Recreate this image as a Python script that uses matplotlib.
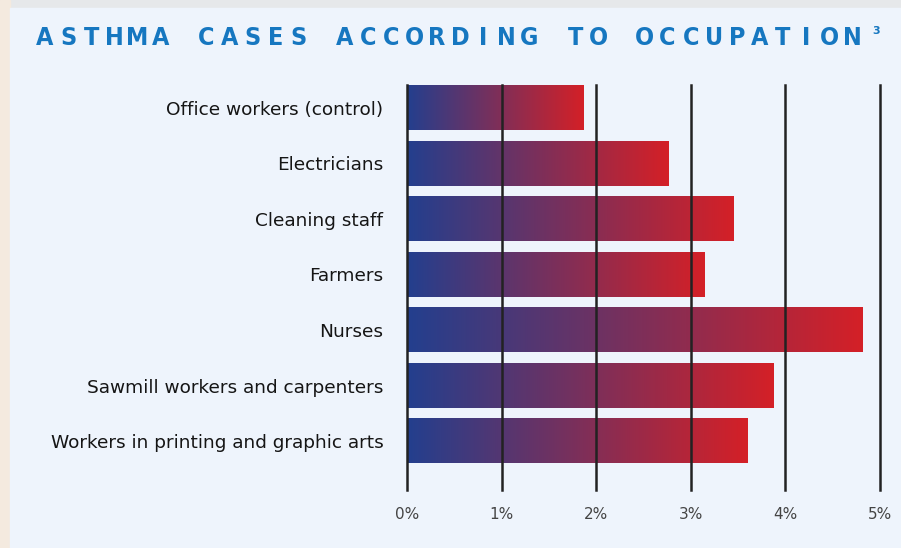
import matplotlib.pyplot as plt
import numpy as np
from matplotlib.colors import LinearSegmentedColormap
from matplotlib.patches import Rectangle

# data
occupations = [
    "Office workers (control)",
    "Electricians",
    "Cleaning staff",
    "Farmers",
    "Nurses",
    "Sawmill workers and carpenters",
    "Workers in printing and graphic arts",
]
asthma_pct = [1.87, 2.76, 3.45, 3.14, 4.81, 3.87, 3.60]
ticks = [0, 1, 2, 3, 4, 5]
tick_labels = ["0%", "1%", "2%", "3%", "4%", "5%"]
title = "ASTHMA CASES ACCORDING TO OCCUPATION"

W, H = 901, 548
fig = plt.figure(figsize=(W / 100, H / 100), dpi=100, facecolor="#e6e8ea")

# background panel and beige left edge
fig.patches.append(Rectangle((0, 0), 10 / W, 1, transform=fig.transFigure,
                             color="#f4eadf", zorder=-2))
fig.patches.append(Rectangle((10 / W, 0), 1, 1 - 8 / H, transform=fig.transFigure,
                             color="#eef4fc", zorder=-2))

ax = fig.add_axes([407 / W, 58 / H, 473 / W, 405 / H], zorder=2)
ax.set_facecolor("none")

cmap = LinearSegmentedColormap.from_list("bluered", ["#233f8e", "#d42027"])
grad = np.linspace(0, 1, 256).reshape(1, -1)
bar_h = 0.8
for i, v in enumerate(asthma_pct):
    ax.imshow(grad, cmap=cmap, aspect="auto", interpolation="bilinear",
              extent=[0, v, i + bar_h / 2, i - bar_h / 2], zorder=2)
ax.set_xlim(0, 5)
ax.set_ylim(6.88, -0.41)

for t in ticks:
    ax.axvline(t, color="#222222", lw=1.8, zorder=3, clip_on=False)

for s in ax.spines.values():
    s.set_visible(False)

ax.set_yticks(range(len(occupations)))
ax.set_yticklabels(occupations, fontsize=13.3, color="#151515",
                   family="DejaVu Sans")
ax.set_xticks(ticks)
ax.set_xticklabels(tick_labels, fontsize=11, color="#444444")
ax.tick_params(axis="y", length=0, pad=17)
ax.tick_params(axis="x", length=0, pad=12)

# title with wide letter spacing, one character at a time
pitch = 23.06
x0 = 37
for i, ch in enumerate(title):
    if ch == " ":
        continue
    fig.text((x0 + i * pitch + 8) / W, 1 - 38 / H, ch, ha="center", va="center",
             fontsize=18, fontweight="bold", color="#1677c0",
             family="DejaVu Sans", fontstretch="condensed")
fig.text(876 / W, 1 - 31 / H, "3", ha="center", va="center", fontsize=8,
         fontweight="bold", color="#1677c0")

fig.savefig("out.png", dpi=100, facecolor=fig.get_facecolor())
